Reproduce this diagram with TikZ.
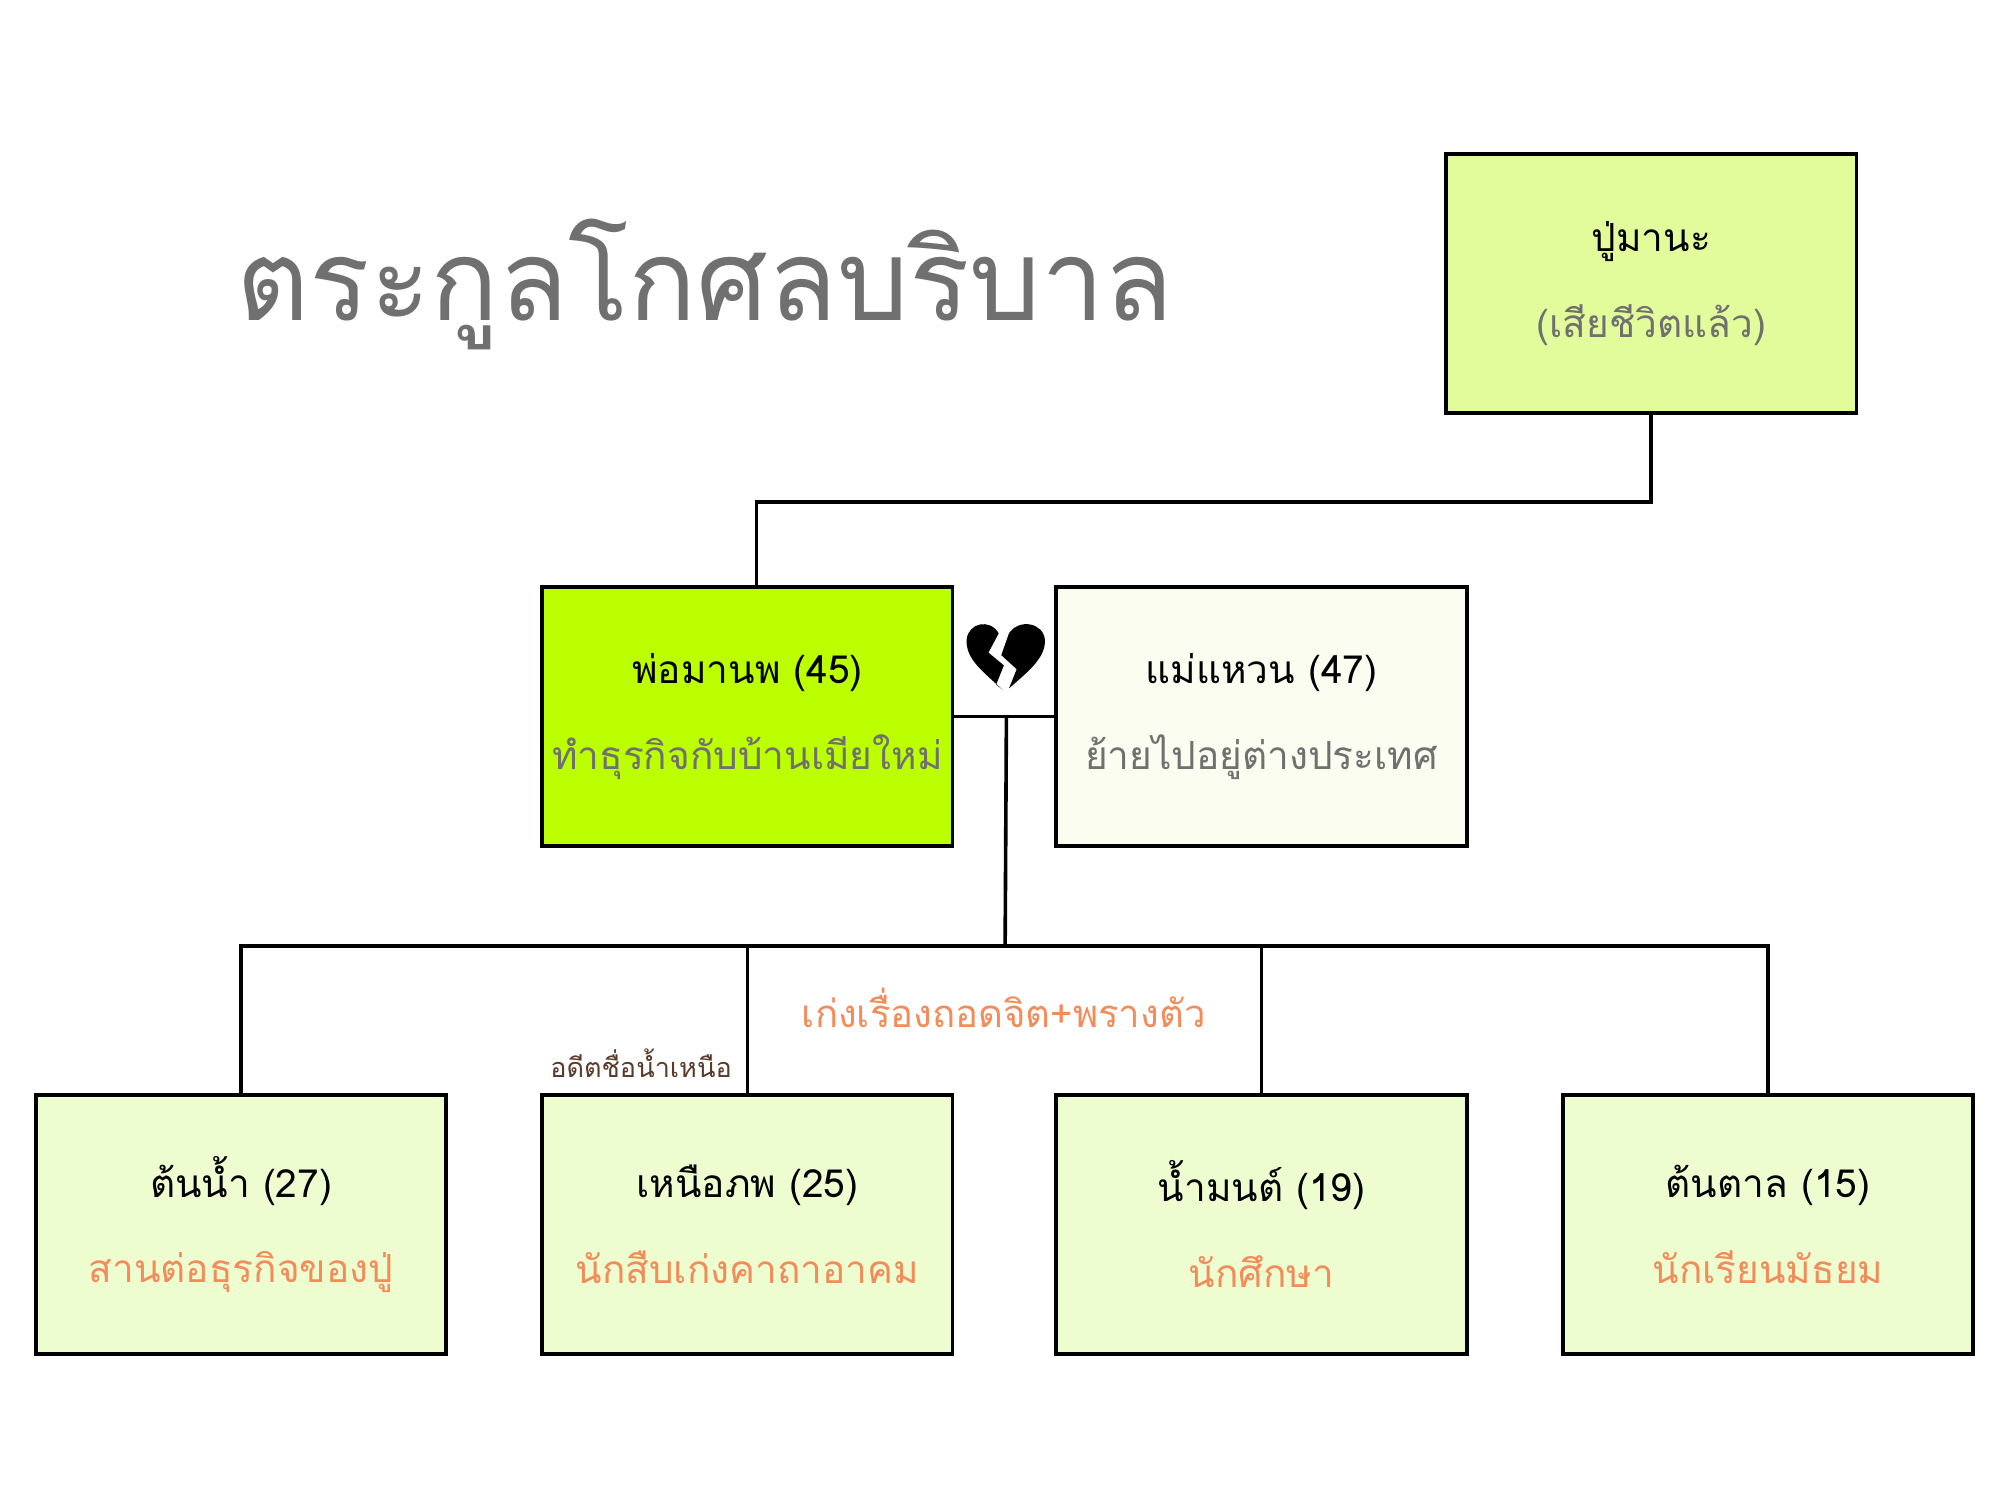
\documentclass[tikz,border=0pt]{standalone}
\usepackage{fontspec}
\newfontfamily\thaifont[Script=Thai]{Loma}
\usepackage{tikz}
\usetikzlibrary{positioning}
\definecolor{grandfill}{HTML}{E2FB9B}
\definecolor{dadfill}{HTML}{BBFF00}
\definecolor{momfill}{HTML}{FAFDF0}
\definecolor{kidfill}{HTML}{EEFDD0}
\definecolor{subgray}{HTML}{707070}
\definecolor{suborange}{HTML}{F28C5A}
\definecolor{notebrown}{HTML}{5A3A2A}
\tikzset{
  person/.style={draw, thick, minimum width=3.2cm, minimum height=2.02cm, inner sep=0pt, align=center, font=\thaifont\fontsize{8.6}{19}\selectfont},
  link/.style={thick}
}
\begin{document}
\begin{tikzpicture}[x=0.01cm,y=-0.01cm]
  \useasboundingbox (0,0) rectangle (1560,1170);
  \node[font=\thaifont\fontsize{25}{25}\selectfont,text=subgray] (title) at (550,222) {ตระกูลโกศลบริบาล};

  \node[person,fill=grandfill] (grandpa) at (1288,221) {ปู่มานะ\\\textcolor{subgray}{(เสียชีวิตแล้ว)}};
  \node[person,fill=dadfill] (dad) at (583,559) {พ่อมานพ (45)\\\textcolor{subgray}{ทำธุรกิจกับบ้านเมียใหม่}};
  \node[person,fill=momfill] (mom) at (984,559) {แม่แหวน (47)\\\textcolor{subgray}{ย้ายไปอยู่ต่างประเทศ}};

  \node[person,fill=kidfill] (kid1) at (188,955) {ต้นน้ำ (27)\\\textcolor{suborange}{สานต่อธุรกิจของปู่}};
  \node[person,fill=kidfill] (kid2) at (583,955) {เหนือภพ (25)\\\textcolor{suborange}{นักสืบเก่งคาถาอาคม}};
  \node[person,fill=kidfill] (kid3) at (984,955) {น้ำมนต์ (19)\\\textcolor{suborange}{นักศึกษา}};
  \node[person,fill=kidfill] (kid4) at (1379,955) {ต้นตาล (15)\\\textcolor{suborange}{นักเรียนมัธยม}};

  % broken heart
  \fill (782,538) .. controls (767,524) and (753,514) .. (754,499)
    .. controls (755,486) and (772,482) .. (779,494) -- (771,509) -- (783,519) -- (777,534) -- cycle;
  \fill (787,537) -- (793,522) -- (781,511) -- (787,494)
    .. controls (795,482) and (814,486) .. (815,499)
    .. controls (816,514) and (799,526) .. (787,537) -- cycle;

  % connectors
  \coordinate (wed) at (785,559);
  \coordinate (fork) at (784,738);
  \draw[link] (grandpa.south) -- ++(0,68) -| (590,457);
  \draw[link] (dad.east) -- (mom.west);
  \draw[link] (wed) -- (fork);
  \draw[link] (kid1.north) |- (fork) -| (kid4.north);
  \draw[link] (fork) -| (kid3.north);
  \draw[link] (fork) -| (kid2.north);

  \node[font=\thaifont\fontsize{8.5}{9}\selectfont,text=suborange] (talent) at (783,786) {เก่งเรื่องถอดจิต+พรางตัว};
  \node[font=\thaifont\fontsize{6}{6}\selectfont,text=notebrown] (oldname) at (500,829) {อดีตชื่อน้ำเหนือ};
\end{tikzpicture}
\end{document}
